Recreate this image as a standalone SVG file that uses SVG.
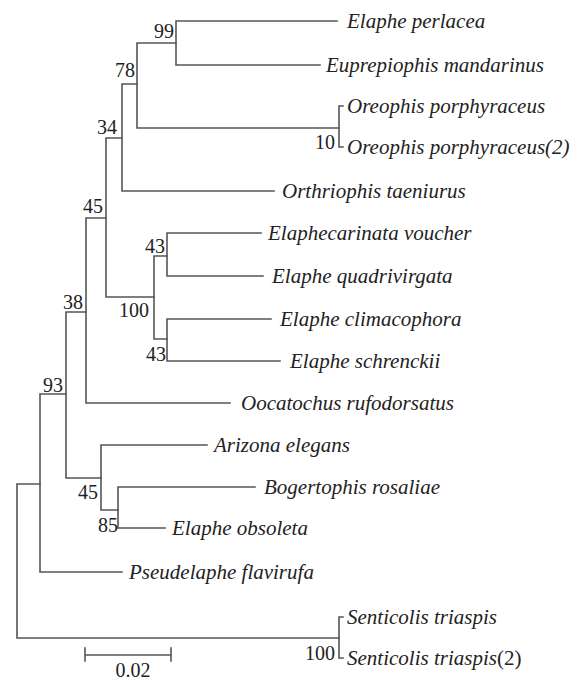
<svg xmlns="http://www.w3.org/2000/svg" width="581" height="682" viewBox="0 0 581 682">
<style>
.b{fill:none;stroke:#555;stroke-width:1.6;stroke-linecap:square}
.t{font-family:"Liberation Serif","Times New Roman",serif;font-style:italic;font-size:21px;fill:#222}
.n{font-family:"Liberation Serif","Times New Roman",serif;font-size:20px;fill:#222;text-anchor:end}
.s{font-family:"Liberation Serif","Times New Roman",serif;font-size:20px;fill:#222;text-anchor:middle}
</style>
<rect width="581" height="682" fill="#fff"/>
<g id="connectors" class="b">
<path d="M17,484V638M17,484H40M17,638H339"/>
<path d="M40,394V572M40,394H66M40,572H122"/>
<path d="M66,312V478M66,312H86M66,478H101"/>
<path d="M86,218V403M86,218H106M86,403H230"/>
<path d="M106,138V297M106,138H122M106,297H154"/>
<path d="M122,84V191M122,84H137M122,191H274"/>
<path d="M137,43V128M137,43H176M137,128H339"/>
<path d="M176,21V65M176,21H337M176,65H320"/>
<path d="M339,106V147M339,106H343M339,147H343"/>
<path d="M154,256V339M154,256H167M154,339H167"/>
<path d="M167,233V276M167,233H261M167,276H263"/>
<path d="M167,319V361M167,319H271M167,361H280"/>
<path d="M101,445V510M101,445H207M101,510H118"/>
<path d="M118,487V528M118,487H255M118,528H165"/>
<path d="M339,617V658M339,617H343M339,658H343"/>
<path d="M85,655H171M85,648V661M171,648V661"/>
</g>
<g id="tips">
<text id="t1" class="t" x="347" y="28">Elaphe perlacea</text>
<text id="t2" class="t" x="326" y="72">Euprepiophis mandarinus</text>
<text id="t3" class="t" x="347" y="113">Oreophis porphyraceus</text>
<text id="t4" class="t" x="347" y="154">Oreophis porphyraceus(2)</text>
<text id="t5" class="t" x="282" y="198">Orthriophis taeniurus</text>
<text id="t6" class="t" x="268" y="240">Elaphecarinata voucher</text>
<text id="t7" class="t" x="272" y="283">Elaphe quadrivirgata</text>
<text id="t8" class="t" x="280" y="326">Elaphe climacophora</text>
<text id="t9" class="t" x="290" y="368">Elaphe schrenckii</text>
<text id="t10" class="t" x="241" y="410">Oocatochus rufodorsatus</text>
<text id="t11" class="t" x="214" y="452">Arizona elegans</text>
<text id="t12" class="t" x="264" y="494">Bogertophis rosaliae</text>
<text id="t13" class="t" x="172" y="535">Elaphe obsoleta</text>
<text id="t14" class="t" x="129" y="579">Pseudelaphe flavirufa</text>
<text id="t15" class="t" x="347" y="624">Senticolis triaspis</text>
<text id="t16" class="t" x="347" y="665">Senticolis triaspis<tspan font-style="normal">(2)</tspan></text>
</g>
<g id="support">
<text class="n" x="174" y="38">99</text>
<text class="n" x="135" y="77">78</text>
<text class="n" x="117" y="134">34</text>
<text class="n" x="103" y="213">45</text>
<text class="n" x="335" y="149">10</text>
<text class="n" x="165" y="253">43</text>
<text class="n" x="149" y="317">100</text>
<text class="n" x="166" y="361">43</text>
<text class="n" x="83" y="309">38</text>
<text class="n" x="63" y="392">93</text>
<text class="n" x="98" y="499">45</text>
<text class="n" x="118" y="532">85</text>
<text class="n" x="335" y="660">100</text>
</g>
<g id="scale">
<text class="s" x="133" y="677">0.02</text>
</g>
</svg>
